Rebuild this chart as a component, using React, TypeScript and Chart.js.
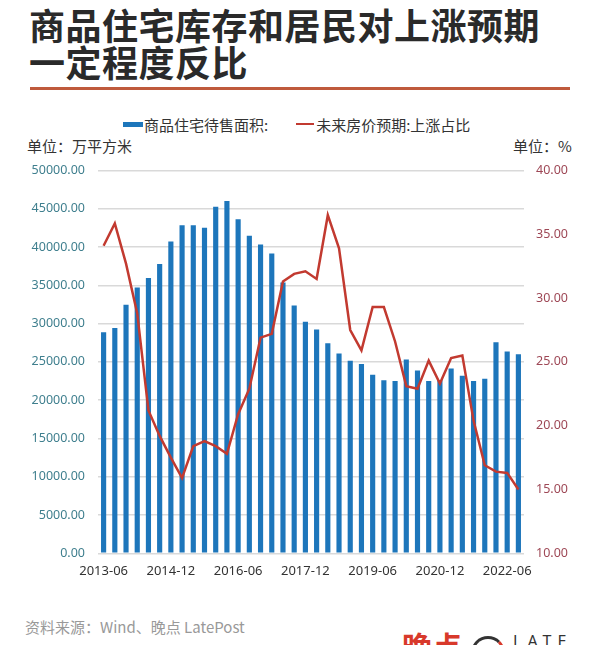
import React, { useEffect, useRef } from 'react';
import { Chart, registerables } from 'chart.js';

Chart.register(...registerables);

const categories = [
  '2013-06', '2013-09', '2013-12', '2014-03', '2014-06', '2014-09', '2014-12', '2015-03',
  '2015-06', '2015-09', '2015-12', '2016-03', '2016-06', '2016-09', '2016-12', '2017-03',
  '2017-06', '2017-09', '2017-12', '2018-03', '2018-06', '2018-09', '2018-12', '2019-03',
  '2019-06', '2019-09', '2019-12', '2020-03', '2020-06', '2020-09', '2020-12', '2021-03',
  '2021-06', '2021-09', '2021-12', '2022-03', '2022-06', '2022-09',
];

// 商品住宅待售面积 (万平方米)
const inventory = [
  28870, 29430, 32470, 34710, 35970, 37790, 40730, 42860, 42860, 42510,
  45280, 46010, 43640, 41470, 40340, 39170, 35360, 32380, 30260, 29220,
  27440, 26100, 25140, 24710, 23330, 22600, 22510, 25320, 23890, 22510,
  22600, 24150, 23200, 22510, 22810, 27570, 26360, 26010,
];

// 未来房价预期:上涨占比 (%)
const expectation = [
  34.1, 35.85, 32.7, 28.8, 21.2, 19.2, 17.5, 15.9, 18.4, 18.8,
  18.4, 17.8, 20.9, 22.9, 26.9, 27.2, 31.3, 31.9, 32.1, 31.5,
  36.5, 33.9, 27.5, 25.9, 29.3, 29.3, 26.6, 23.1, 22.9, 25.1,
  23.3, 25.3, 25.5, 20.4, 16.9, 16.4, 16.3, 15.0,
];

const xTickLabels = ['2013-06', '2014-12', '2016-06', '2017-12', '2019-06', '2020-12', '2022-06'];

const barLabel = '商品住宅待售面积:';
const lineLabel = '未来房价预期:上涨占比';

const BAR_COLOR = '#1d76bb';
const LINE_COLOR = '#c23a30';

export default function App() {
  const canvasRef = useRef<HTMLCanvasElement | null>(null);

  useEffect(() => {
    if (!canvasRef.current) return;
    const chart = new Chart(canvasRef.current, {
      type: 'bar',
      data: {
        labels: categories,
        datasets: [
          {
            type: 'line',
            label: lineLabel,
            data: expectation,
            yAxisID: 'y1',
            borderColor: LINE_COLOR,
            backgroundColor: LINE_COLOR,
            borderWidth: 2.5,
            pointRadius: 0,
            tension: 0,
            order: 0,
          } as any,
          {
            type: 'bar',
            label: barLabel,
            data: inventory,
            yAxisID: 'y',
            backgroundColor: BAR_COLOR,
            barPercentage: 0.5,
            categoryPercentage: 0.92,
            order: 1,
          } as any,
        ],
      },
      options: {
        responsive: false,
        animation: false,
        layout: { padding: { top: 18.3, left: 0, right: 0, bottom: 0 } },
        plugins: {
          legend: { display: false },
          tooltip: { enabled: false },
        },
        scales: {
          x: {
            type: 'category',
            grid: { display: false, drawTicks: false },
            border: { display: false },
            ticks: {
              autoSkip: false,
              maxRotation: 0,
              padding: 10,
              color: '#333333',
              font: { family: 'Noto Sans', size: 13 },
              callback: (_v: any, idx: number) =>
                xTickLabels.includes(categories[idx]) ? categories[idx] : '',
            },
            afterFit: (s: any) => {
              s.height = 36.7;
            },
          },
          y: {
            type: 'linear',
            position: 'left',
            min: 0,
            max: 50000,
            grid: { color: '#d9d9d9', lineWidth: 1.5, drawTicks: false },
            border: { display: false },
            ticks: {
              stepSize: 5000,
              padding: 13,
              color: '#3f7f8e',
              font: { family: 'Noto Sans', size: 12.5 },
              callback: (v: any) => Number(v).toFixed(2),
            },
            afterFit: (s: any) => {
              s.width = 98;
            },
          },
          y1: {
            type: 'linear',
            position: 'right',
            min: 10,
            max: 40,
            grid: { display: false, drawTicks: false },
            border: { display: false },
            ticks: {
              stepSize: 5,
              padding: 12,
              color: '#9e4856',
              font: { family: 'Noto Sans', size: 12.5 },
              callback: (v: any) => Number(v).toFixed(2),
            },
            afterFit: (s: any) => {
              s.width = 76;
            },
          },
        },
      },
    });
    return () => chart.destroy();
  }, []);

  const cjk = '"Noto Sans CJK SC", "Noto Sans", sans-serif';

  return (
    <div
      style={{
        position: 'fixed',
        left: 0,
        top: 0,
        width: 600,
        height: 645,
        overflow: 'hidden',
        background: '#ffffff',
        fontFamily: cjk,
      }}
    >
      <div
        style={{
          position: 'absolute',
          left: 29,
          top: 6,
          fontSize: 36,
          fontWeight: 700,
          lineHeight: '37px',
          letterSpacing: 0.5,
          color: '#2a2a2a',
          whiteSpace: 'nowrap',
        }}
      >
        <div>商品住宅库存和居民对上涨预期</div>
        <div>一定程度反比</div>
      </div>
      <div
        style={{
          position: 'absolute',
          left: 30,
          top: 87,
          width: 540,
          height: 3,
          background: '#bf5a3c',
        }}
      />
      {/* legend */}
      <div
        style={{
          position: 'absolute',
          left: 123,
          top: 114,
          height: 20,
          display: 'flex',
          alignItems: 'center',
          fontSize: 15,
          color: '#333333',
          whiteSpace: 'nowrap',
        }}
      >
        <span style={{ display: 'inline-block', width: 20, height: 5, background: BAR_COLOR, marginRight: 1 }} />
        <span>{barLabel}</span>
        <span style={{ display: 'inline-block', width: 18, height: 2.5, background: LINE_COLOR, marginLeft: 28, marginRight: 2 }} />
        <span>{lineLabel}</span>
      </div>
      <div style={{ position: 'absolute', left: 27, top: 135, fontSize: 15, color: '#333333', whiteSpace: 'nowrap' }}>
        单位：万平方米
      </div>
      <div style={{ position: 'absolute', left: 513, top: 135, fontSize: 15, color: '#333333', whiteSpace: 'nowrap' }}>
        单位：%
      </div>
      <canvas
        ref={canvasRef}
        width={600}
        height={440}
        style={{ position: 'absolute', left: 0, top: 150, width: 600, height: 440 }}
      />
      <div style={{ position: 'absolute', left: 25, top: 616, fontSize: 15, color: '#999999', whiteSpace: 'nowrap' }}>
        资料来源：Wind、晚点 LatePost
      </div>
      {/* logo */}
      <div
        style={{
          position: 'absolute',
          left: 402,
          top: 630,
          fontSize: 30,
          fontWeight: 700,
          color: '#d8392b',
          lineHeight: '30px',
          whiteSpace: 'nowrap',
        }}
      >
        晚点
      </div>
      <div
        style={{
          position: 'absolute',
          left: 471,
          top: 636,
          width: 28,
          height: 28,
          borderRadius: '50%',
          border: '3px solid #333333',
          borderRightColor: '#d8392b',
          borderBottomColor: '#d8392b',
        }}
      />
      <div
        style={{
          position: 'absolute',
          left: 513,
          top: 630,
          fontSize: 16,
          letterSpacing: 6,
          color: '#333333',
          fontFamily: '"Noto Sans", sans-serif',
          whiteSpace: 'nowrap',
        }}
      >
        LATE
      </div>
    </div>
  );
}
